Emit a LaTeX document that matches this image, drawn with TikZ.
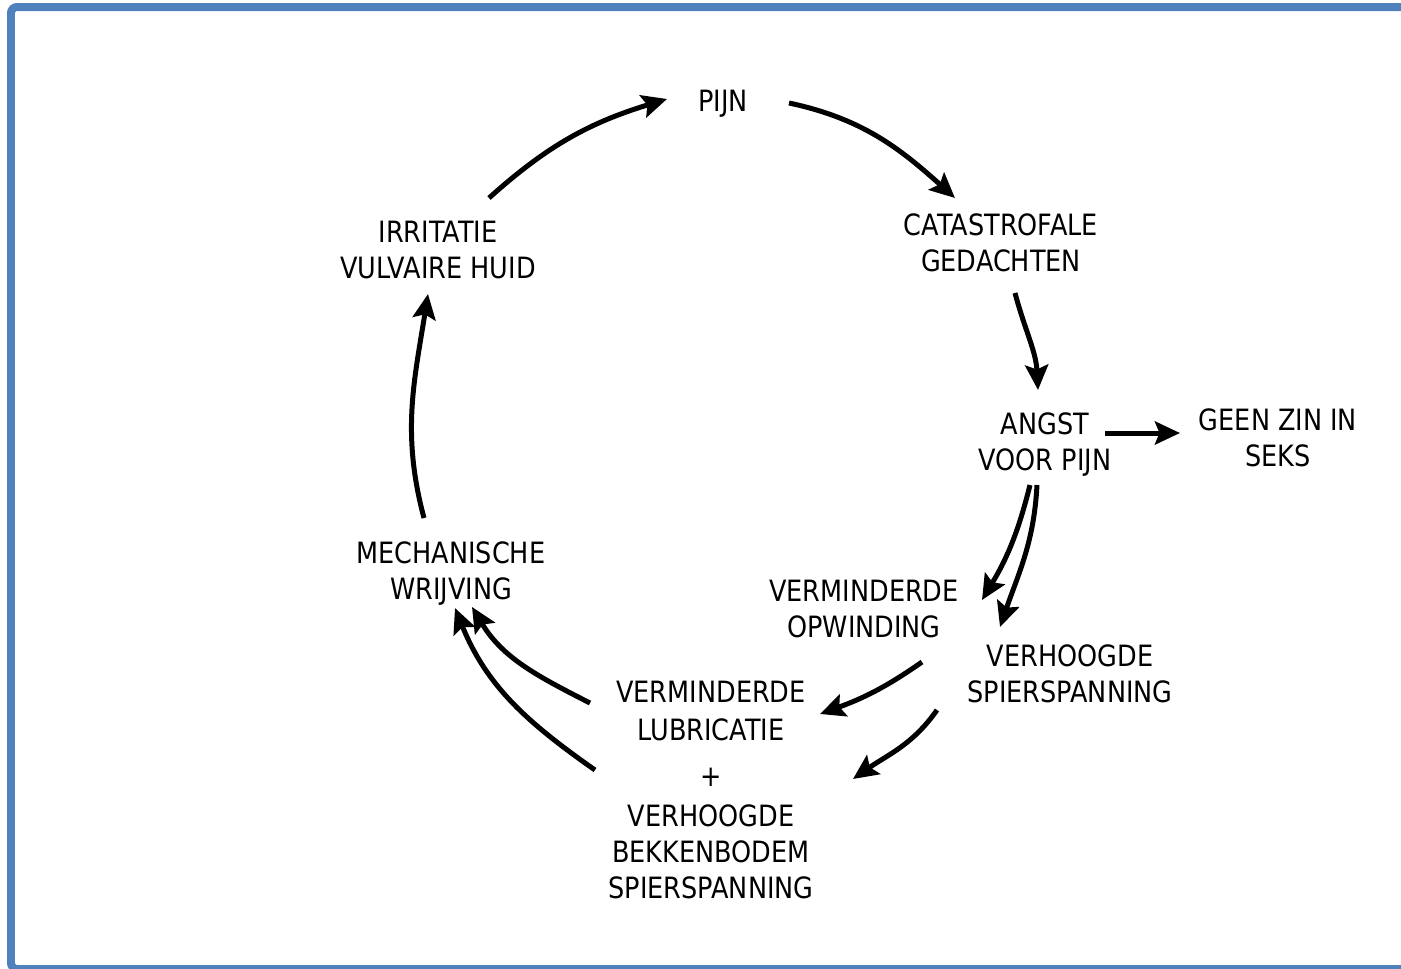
\documentclass[tikz,border=0pt]{standalone}
\usepackage{fontspec}
\setmainfont{DejaVu Sans}[FakeStretch=0.87]
\usetikzlibrary{arrows.meta,calc}
\definecolor{frameblue}{HTML}{4F81BD}
\begin{document}
\begin{tikzpicture}[x=0.02cm,y=-0.02cm,>={[inset=0.09cm,length=0.5cm,width=0.46cm]Stealth},
  lbl/.style={align=center,inner sep=0pt,text depth=0pt,font=\fontsize{16.7}{20.5}\selectfont},
  flow/.style={->,line width=0.1cm}]
\useasboundingbox[fill=white] (0,0) rectangle (1401,968);
\draw[frameblue,line width=0.16cm,rounded corners=0.12cm] (11,7) rectangle (1410,969);
\node[lbl] (pijn)  at (723,101)    {PIJN};
\node[lbl] (cat)   at (1001,242.5) {CATASTROFALE\\GEDACHTEN};
\node[lbl] (angst) at (1045,442)   {ANGST\\VOOR PIJN};
\node[lbl] (geen)  at (1278,438)   {GEEN ZIN IN\\SEKS};
\node[lbl] (opw)   at (864,609)    {VERMINDERDE\\OPWINDING};
\node[lbl] (spier) at (1070,674)   {VERHOOGDE\\SPIERSPANNING};
\node[lbl] (lub)   at (711,789.5)  {VERMINDERDE\\[1pt]LUBRICATIE\\[6pt]+\\[2pt]VERHOOGDE\\BEKKENBODEM\\SPIERSPANNING};
\node[lbl] (irr)   at (438,250)    {IRRITATIE\\VULVAIRE HUID};
\node[lbl] (mech)  at (451,571)    {MECHANISCHE\\WRIJVING};
\draw[flow] ($(pijn)+(66,2)$) to[out=348,in=138] ($(cat)+(-46,-44.5)$);
\draw[flow] ($(cat)+(14,50.5)$) to[out=285,in=93] ($(angst)+(-7,-52)$);
\draw[flow] ($(angst)+(60,-9)$) -- ($(geen)+(-98,-5)$);
\draw[flow] ($(angst)+(-15,43)$) to[out=256,in=59] ($(opw)+(118,-9)$);
\draw[flow] ($(angst)+(-8,43)$) to[out=267,in=71] ($(spier)+(-70,-47)$);
\draw[flow] ($(opw)+(58,53)$) to[out=215,in=20] ($(lub)+(109,-75.5)$);
\draw[flow] ($(spier)+(-133,36)$) to[out=235,in=35] ($(lub)+(142,-10.5)$);
\draw[flow] ($(lub)+(-121,-86.5)$) to[out=153,in=301] ($(mech)+(21,36)$);
\draw[flow] ($(lub)+(-116,-19.5)$) to[out=145,in=292] ($(mech)+(4,37)$);
\draw[flow] ($(mech)+(-27,-53)$) to[out=105,in=261] ($(irr)+(-10,44)$);
\draw[flow] ($(irr)+(51,-52)$) to[out=42,in=197] ($(pijn)+(-56,-2)$);
\end{tikzpicture}
\end{document}
